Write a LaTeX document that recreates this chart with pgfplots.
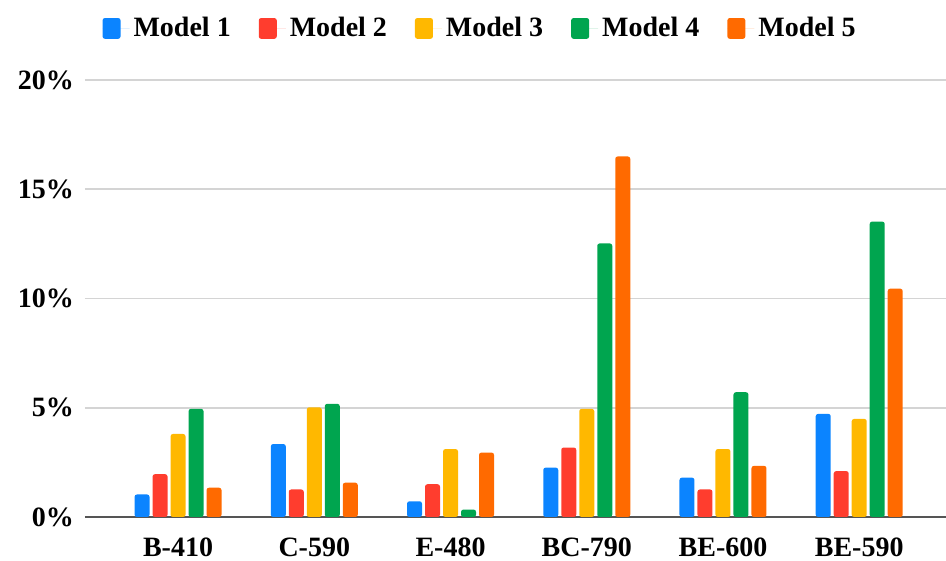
\documentclass[border=0pt]{standalone}
\usepackage{fontspec}
\setmainfont{Liberation Serif}
\usepackage{pgfplots}
\pgfplotsset{compat=1.18}
\definecolor{m1}{HTML}{0B84FF}
\definecolor{m2}{HTML}{FF3D2E}
\definecolor{m3}{HTML}{FFB800}
\definecolor{m4}{HTML}{00A54F}
\definecolor{m5}{HTML}{FF6A00}
\definecolor{gridgray}{HTML}{D4D4D4}
\definecolor{basegray}{HTML}{555555}
\begin{document}
\begin{tikzpicture}
\useasboundingbox (-42.5pt,-22pt) rectangle (430.5pt,258.5pt);
\begin{axis}[
  at={(0,0)}, anchor=south west,
  scale only axis, width=430.5pt, height=218.5pt,
  ybar=1.5pt, bar width=7.5pt,
  xmin=-0.683, xmax=5.637, ymin=0, ymax=20,
  xtick={0,1,2,3,4,5},
  xticklabels={B-410,C-590,E-480,BC-790,BE-600,BE-590},
  ytick={0,5,10,15,20},
  yticklabels={0\%,5\%,10\%,15\%,20\%},
  major tick length=0pt,
  ymajorgrids,
  grid style={draw=gridgray, line width=0.8pt},
  axis x line*=bottom, axis y line*=left,
  x axis line style={draw=basegray, line width=1pt, -},
  y axis line style={draw=none},
  tick label style={font=\fontsize{14}{16}\selectfont\bfseries},
  xticklabel style={yshift=-7pt},
  yticklabel style={xshift=-2pt},
  legend columns=5,
  legend style={at={(0.46,1.118)}, anchor=center, draw=none, fill=none,
    font=\fontsize{14}{16}\selectfont\bfseries,
    /tikz/every even column/.append style={column sep=12pt}},
  legend image code/.code={\fill[#1] (0pt,-5.2pt) rectangle (9pt,5.2pt); \path (0pt,0pt) -- (13.5pt,0pt);},
]
\addplot[fill=m1, draw=none, rounded corners=1.2pt] coordinates {(0,1.03) (1,3.34) (2,0.72) (3,2.26) (4,1.80) (5,4.72)};
\addplot[fill=m2, draw=none, rounded corners=1.2pt] coordinates {(0,1.96) (1,1.26) (2,1.50) (3,3.18) (4,1.26) (5,2.10)};
\addplot[fill=m3, draw=none, rounded corners=1.2pt] coordinates {(0,3.80) (1,5.02) (2,3.11) (3,4.95) (4,3.11) (5,4.49)};
\addplot[fill=m4, draw=none, rounded corners=1.2pt] coordinates {(0,4.95) (1,5.18) (2,0.34) (3,12.52) (4,5.71) (5,13.52)};
\addplot[fill=m5, draw=none, rounded corners=1.2pt] coordinates {(0,1.34) (1,1.57) (2,2.95) (3,16.50) (4,2.34) (5,10.45)};
\legend{Model 1,Model 2,Model 3,Model 4,Model 5}
\end{axis}
\end{tikzpicture}
\end{document}
